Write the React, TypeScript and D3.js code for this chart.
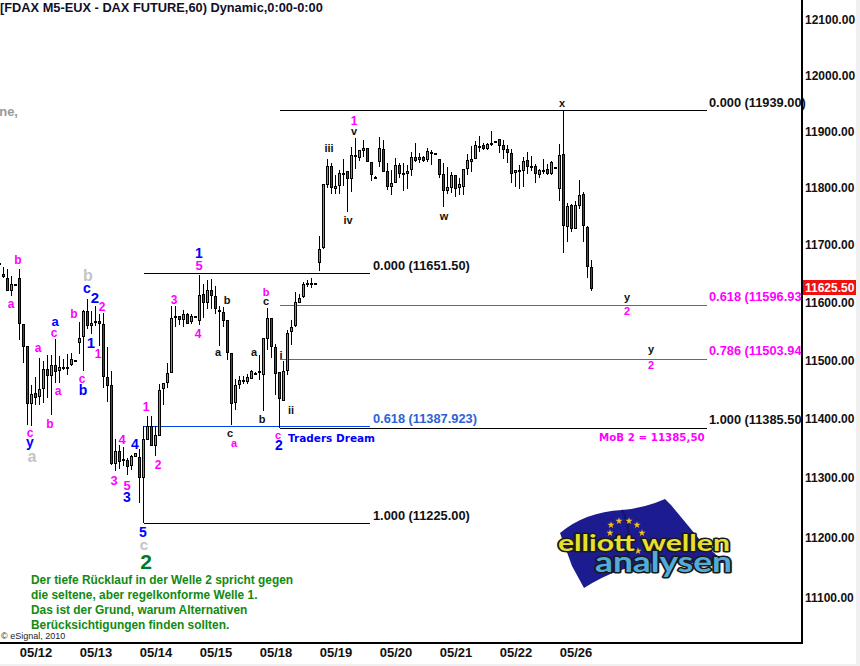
import { useEffect, useRef } from 'react';
import * as d3 from 'd3';

const width = 860;
const height = 666;

// hourly bars
const opens = [11667,11650,11643,11623,11633,11644,11563,11525,11427,11445,11440,11453,11486,11475,11493,11485,11489,11489,11494,11502,11532,11542,11586,11562,11568,11569,11564,11472,11459,11326,11346,11332,11331,11322,11338,11336,11303,11367,11389,11357,11374,11453,11463,11481,11577,11578,11572,11580,11568,11578,11571,11615,11602,11622,11612,11587,11585,11571,11513,11429,11460,11467,11466,11471,11480,11481,11477,11540,11574,11524,11481,11433,11485,11551,11561,11602,11612,11634,11635,11635,11671,11697,11807,11840,11800,11806,11827,11830,11819,11859,11855,11867,11871,11847,11821,11848,11869,11830,11804,11811,11841,11827,11827,11834,11855,11852,11855,11852,11864,11863,11852,11826,11797,11803,11823,11803,11805,11836,11848,11853,11875,11876,11871,11881,11883,11887,11877,11869,11862,11829,11832,11833,11850,11839,11840,11825,11833,11834,11827,11837,11801,11861,11734,11770,11730,11771,11790,11733,11662];
const highs = [11678,11663,11659,11648,11634,11660,11564,11525,11460,11474,11506,11500,11511,11511,11538,11509,11504,11513,11514,11503,11568,11588,11608,11587,11595,11581,11583,11524,11484,11367,11358,11353,11336,11341,11344,11350,11389,11407,11407,11389,11462,11463,11497,11595,11596,11579,11588,11583,11582,11579,11649,11634,11641,11643,11631,11596,11594,11571,11513,11470,11475,11475,11478,11485,11481,11511,11540,11592,11574,11530,11481,11500,11554,11571,11619,11616,11637,11641,11644,11636,11717,11807,11852,11845,11824,11834,11852,11830,11874,11890,11868,11887,11873,11847,11822,11892,11887,11845,11834,11854,11846,11845,11842,11865,11882,11864,11858,11873,11868,11864,11852,11845,11838,11829,11824,11819,11834,11861,11875,11885,11894,11881,11881,11903,11884,11889,11887,11877,11871,11833,11842,11857,11865,11858,11844,11836,11852,11844,11849,11838,11879,11939,11775,11774,11779,11816,11795,11734,11675];
const lows = [11660,11644,11622,11613,11632,11537,11498,11392,11390,11426,11425,11429,11437,11408,11463,11463,11485,11477,11492,11501,11513,11483,11555,11547,11561,11526,11455,11430,11324,11313,11317,11321,11307,11315,11337,11259,11225,11366,11355,11338,11374,11426,11455,11481,11559,11562,11559,11564,11565,11577,11562,11574,11591,11591,11582,11527,11559,11503,11391,11417,11452,11462,11462,11469,11479,11468,11415,11520,11506,11443,11385.5,11432,11476,11528,11559,11602,11609,11628,11626,11634,11657,11694,11801,11791,11791,11791,11805,11760,11795,11836,11850,11857,11847,11814,11820,11839,11830,11798,11790,11810,11820,11797,11799,11823,11848,11846,11847,11848,11842,11862,11819,11768,11791,11793,11785,11789,11789,11824,11829,11852,11865,11868,11868,11875,11882,11864,11853,11845,11811,11803,11799,11803,11827,11832,11811,11820,11826,11825,11824,11836,11779,11687,11707,11724,11729,11764,11707,11644,11621];
const closes = [11670,11646,11623,11633,11633,11565,11526,11428,11443,11438,11452,11486,11475,11493,11483,11489,11489,11490,11503,11502,11540,11586,11561,11565,11568,11565,11474,11459,11326,11346,11330,11332,11320,11337,11343,11303,11366,11389,11357,11374,11450,11462,11480,11574,11577,11572,11580,11566,11578,11578,11613,11602,11623,11613,11591,11587,11571,11515,11427,11459,11467,11467,11472,11483,11480,11482,11540,11574,11526,11480,11436,11483,11548,11559,11602,11609,11632,11634,11635,11635,11693,11807,11840,11802,11805,11827,11827,11819,11859,11859,11867,11871,11848,11825,11821,11871,11830,11804,11810,11841,11827,11827,11831,11855,11851,11855,11850,11866,11864,11863,11826,11798,11802,11823,11801,11808,11834,11850,11852,11876,11875,11871,11878,11881,11883,11877,11869,11864,11827,11833,11832,11848,11840,11839,11827,11833,11833,11827,11847,11837,11859,11736,11769,11730,11771,11789,11736,11664,11625.5];

const lastClose = '11625.50';
const priceTicks = [11100, 11200, 11300, 11400, 11500, 11600, 11700, 11800, 11900, 12000, 12100];
const dateLabels = ['05/12', '05/13', '05/14', '05/15', '05/18', '05/19', '05/20', '05/21', '05/22', '05/26'];
const dateBars = [9, 24, 39, 54, 69, 84, 99, 114, 129, 144];

// retracement lines: level, first bar, last bar
const fibLevels = [11939, 11651.5, 11596.93, 11503.94, 11387.923, 11385.5, 11225];
const fibFrom = [70, 36, 70, 70, 36, 70, 36];
const fibTo = [176.9, 92.6, 176.9, 176.9, 92.6, 176.9, 92.6];
const fibText = ['0.000 (11939.00)', '0.000 (11651.50)', '0.618 (11596.93', '0.786 (11503.94', '0.618 (11387.923)', '1.000 (11385.50', '1.000 (11225.00)'];

const noteLines = [
  'Der tiefe Rücklauf in der Welle 2 spricht gegen',
  'die seltene, aber regelkonforme Welle 1.',
  'Das ist der Grund, warum Alternativen',
  'Berücksichtigungen finden sollten.',
];

const MAG = '#ff00ff';
const BLU = '#0000ff';
const BLK = '#111111';
const GRY = '#c4c4c4';
const GRN = '#007a1e';

export default function App() {
  const svgRef = useRef<SVGSVGElement>(null);

  useEffect(() => {
    const svg = d3.select(svgRef.current);
    svg.selectAll('*').remove();

    const x = d3.scaleLinear().domain([0, 1]).range([-0.5, 3.5]);
    const y = d3.scaleLog().domain([12100, 11100]).range([20.8, 598.4]);

    const sans = 'Liberation Sans, Arial, sans-serif';
    const label = (t, cx, cy, color, size, anchor = 'middle', family = sans) =>
      svg.append('text')
        .attr('x', cx)
        .attr('y', cy + size * 0.36)
        .attr('text-anchor', anchor)
        .attr('fill', color)
        .attr('font-family', family)
        .attr('font-weight', 'bold')
        .attr('font-size', size)
        .text(t);

    // background
    svg.append('rect').attr('width', width).attr('height', height).attr('fill', '#ffffff');
    svg.append('rect').attr('x', 856).attr('width', 4).attr('height', height).attr('fill', '#f0f0f0');
    svg.append('rect').attr('y', 664).attr('width', width).attr('height', 2).attr('fill', '#f0f0f0');

    // retracement lines
    const fibColor = ['#000000', '#000000', MAG, MAG, '#0044ee', '#000000', '#000000'];
    const fibTextColor = [BLK, BLK, MAG, MAG, '#2a62d8', BLK, BLK];
    const fibTextX = [709, 373, 709, 709, 373, 709, 373];
    fibLevels.forEach((lvl, i) => {
      svg.append('line')
        .attr('x1', x(fibFrom[i]))
        .attr('x2', x(fibTo[i]))
        .attr('y1', y(lvl))
        .attr('y2', y(lvl))
        .attr('stroke', fibColor[i])
        .attr('shape-rendering', 'crispEdges');
      label(fibText[i], fibTextX[i], y(lvl) - 8.5, fibTextColor[i], 12.8, 'start');
    });

    // candles
    const bars = svg.append('g').attr('shape-rendering', 'crispEdges');
    closes.forEach((c, i) => {
      const o = opens[i];
      const cx = x(i);
      bars.append('line')
        .attr('x1', cx)
        .attr('x2', cx)
        .attr('y1', y(highs[i]))
        .attr('y2', y(lows[i]))
        .attr('stroke', '#000000');
      const top = y(Math.max(o, c));
      bars.append('rect')
        .attr('x', cx - 1)
        .attr('width', 2)
        .attr('y', top)
        .attr('height', Math.max(1, y(Math.min(o, c)) - top))
        .attr('fill', c >= o ? '#22d422' : '#d01010')
        .attr('stroke', '#000000');
    });

    // axes
    const yAxis = d3.axisRight(y)
      .tickValues(priceTicks)
      .tickSize(0)
      .tickPadding(3)
      .tickFormat(d3.format('.2f'));
    const yG = svg.append('g').attr('transform', 'translate(802,0)').call(yAxis);
    yG.select('.domain').remove();
    yG.selectAll('text')
      .attr('dy', '0.25em')
      .attr('font-family', sans)
      .attr('font-weight', 'bold')
      .attr('font-size', 12)
      .attr('fill', BLK);

    const xAxis = d3.axisBottom(x)
      .tickValues(dateBars)
      .tickSize(0)
      .tickPadding(5)
      .tickFormat((d, i) => dateLabels[i]);
    const xG = svg.append('g').attr('transform', 'translate(0,643)').call(xAxis);
    xG.select('.domain').remove();
    xG.selectAll('text')
      .attr('font-family', sans)
      .attr('font-weight', 'bold')
      .attr('font-size', 13)
      .attr('fill', BLK);

    svg.append('path')
      .attr('d', 'M802,0V643H0')
      .attr('fill', 'none')
      .attr('stroke', '#000000')
      .attr('stroke-width', 2)
      .attr('shape-rendering', 'crispEdges');

    // last price box
    svg.append('rect').attr('x', 803).attr('y', 280).attr('width', 53).attr('height', 15).attr('fill', '#f01010');
    label(lastClose, 805, 288, '#ffffff', 12, 'start');

    // header
    label('[FDAX M5-EUX - DAX FUTURE,60) Dynamic,0:00-0:00', 0, 7, '#10102a', 12.8, 'start');
    label('ne,', 18, 111, '#999999', 13, 'end');

    // wave count, left to right
    const waves = [
      ['b', 18, 260, MAG, 12], ['a', 11, 304, MAG, 12], ['a', 38, 348, MAG, 12], ['a', 55, 321, BLU, 13],
      ['c', 54, 333, MAG, 12], ['a', 58, 391, MAG, 12], ['b', 50, 424, MAG, 12], ['c', 30, 433, MAG, 12],
      ['y', 30, 442, BLU, 14], ['a', 32, 456, GRY, 16], ['b', 88, 275, GRY, 16], ['c', 87, 288, BLU, 14],
      ['2', 95, 298, BLU, 15], ['2', 102, 307, MAG, 12], ['b', 74, 314, MAG, 12], ['1', 91, 343, BLU, 15],
      ['1', 98, 354, MAG, 12], ['c', 82, 379, MAG, 12], ['b', 83, 390, BLU, 14], ['4', 122, 439, MAG, 13],
      ['4', 135, 444, BLU, 14], ['1', 146, 407, MAG, 12], ['2', 158, 465, MAG, 12], ['3', 114, 480, MAG, 13],
      ['5', 127, 485, MAG, 13], ['3', 127, 497, BLU, 14], ['5', 143, 532, BLU, 14], ['c', 144, 545, GRY, 15],
      ['2', 146, 561, GRN, 21], ['1', 199, 253, BLU, 14], ['5', 199, 265, MAG, 13], ['3', 174, 300, MAG, 12],
      ['4', 198, 334, MAG, 12], ['b', 227, 300, BLK, 11], ['a', 218, 352, BLK, 11], ['c', 230, 433, BLK, 11],
      ['a', 234, 443, MAG, 11], ['a', 254, 352, BLK, 11], ['b', 266, 292, MAG, 11], ['c', 266, 301, BLK, 11],
      ['b', 262, 419, BLK, 11], ['i', 281, 355, BLK, 11], ['ii', 291, 410, BLK, 11], ['c', 278, 435, MAG, 11],
      ['2', 279, 445, BLU, 14], ['1', 354, 121, MAG, 12], ['v', 354, 131, BLK, 11], ['iii', 329, 148, BLK, 11],
      ['iv', 348, 220, BLK, 11], ['w', 444, 216, BLK, 11], ['x', 562, 103, BLK, 11], ['y', 627, 297, BLK, 11],
      ['2', 627, 311, MAG, 11], ['y', 651, 349, BLK, 11], ['2', 651, 365, MAG, 11],
    ];
    waves.forEach(([t, cx, cy, color, size]) => label(t, cx, cy, color, size));

    label('Traders Dream', 288, 438, BLU, 10.5, 'start', 'DejaVu Sans, sans-serif');
    label('MoB 2 = 11385,50', 599, 437, MAG, 10.3, 'start', 'DejaVu Sans, sans-serif');

    // comment text
    noteLines.forEach((line, i) => label(line, 31, 580 + i * 15, '#128a12', 11.9, 'start'));
    svg.append('text')
      .attr('x', 1)
      .attr('y', 639)
      .attr('font-family', sans)
      .attr('font-size', 9)
      .attr('fill', '#222222')
      .text('© eSignal, 2010');

    // logo
    const logo = svg.append('g');
    logo.append('path')
      .attr('d', 'M560,533 Q585,512 622,510 Q645,508 665,499 L671,505 L700,540 L725,563 L657,563 Q620,565 584,588 L572,566 Z')
      .attr('fill', '#1c1c90');
    logo.append('path')
      .attr('d', 'M622,510 Q632,530 628,556')
      .attr('fill', 'none')
      .attr('stroke', '#14146a')
      .attr('stroke-width', 2);
    const star = d3.symbol().type(d3.symbolStar).size(16);
    [[611, 525], [619, 521], [629, 521], [637, 525], [642, 533], [610, 533], [638, 551]].forEach(([sx, sy]) => {
      logo.append('path').attr('d', star()).attr('transform', `translate(${sx},${sy})`).attr('fill', '#f0c020');
    });
    const logoWord = (t, lx, ly, len, fill, size) =>
      logo.append('text')
        .attr('x', lx)
        .attr('y', ly)
        .attr('textLength', len)
        .attr('lengthAdjust', 'spacingAndGlyphs')
        .attr('font-family', 'Lato, DejaVu Sans, sans-serif')
        .attr('font-weight', 'bold')
        .attr('font-size', size)
        .attr('fill', fill)
        .attr('stroke', '#1a1a1a')
        .attr('stroke-width', 3)
        .attr('stroke-linejoin', 'round')
        .attr('paint-order', 'stroke')
        .text(t);
    logoWord('elliott wellen', 558, 551, 172, '#e8e030', 23);
    logoWord('analysen', 595, 572, 137, '#50acdc', 28);
  }, []);

  return <svg ref={svgRef} width={width} height={height} style={{ position: 'absolute', left: 0, top: 0, display: 'block' }}></svg>;
}
